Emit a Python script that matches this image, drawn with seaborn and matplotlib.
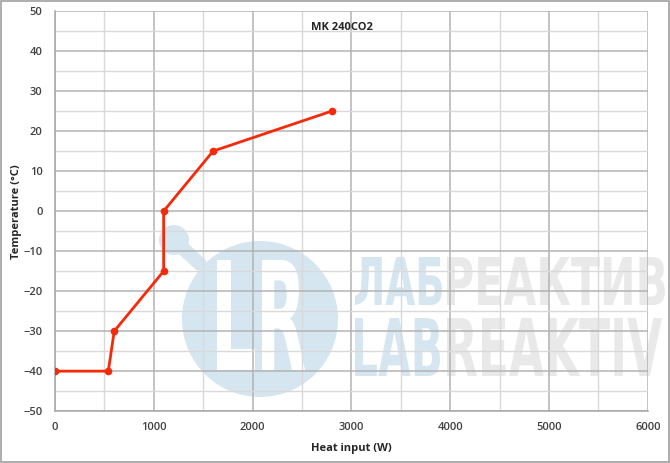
import numpy as np
import pandas as pd
import matplotlib
matplotlib.use("Agg")
import matplotlib.pyplot as plt
from matplotlib.patches import Circle, Rectangle, PathPatch
from matplotlib.textpath import TextPath
from matplotlib.font_manager import FontProperties
from matplotlib.transforms import Affine2D
import seaborn as sns

# data
heat_input = [0, 540, 600, 1100, 1100, 1600, 2800]
temperature = [-40, -40, -30, -15, 0, 15, 25]
x_ticks = [0, 1000, 2000, 3000, 4000, 5000, 6000]
y_ticks = [-50, -40, -30, -20, -10, 0, 10, 20, 30, 40, 50]
title = "MK 240CO2"

df = pd.DataFrame({"heat": heat_input, "temp": temperature})

sns.set_style("white")
plt.rcParams['font.family'] = ['Open Sans', 'DejaVu Sans']

fig = plt.figure(figsize=(6.7, 4.63), dpi=100)

# background layer in pixel units for the watermark
bg = fig.add_axes([0, 0, 1, 1], zorder=0)
bg.set_xlim(0, 670)
bg.set_ylim(463, 0)
bg.axis("off")

wm_blue = "#d6e6f1"
wm_gray = "#e9e9e9"
wm_font = FontProperties(family="DejaVu Sans", weight="bold")


def fit_text(s, x0, x1, y0, y1, color):
    # draw a text path squeezed into the pixel box (x0..x1, y0..y1)
    tp = TextPath((0, 0), s, size=100, prop=wm_font)
    ext = tp.get_extents()
    sx = (x1 - x0) / ext.width
    sy = (y1 - y0) / ext.height
    tr = Affine2D().translate(-ext.x0, -ext.y0).scale(sx, -sy).translate(x0, y1)
    bg.add_patch(PathPatch(tr.transform_path(tp), color=color, lw=0))


bg.add_patch(Circle((260, 319), 78, color=wm_blue, lw=0))
bg.add_patch(Circle((174, 240), 15, color=wm_blue, lw=0))
bg.plot([176, 200], [242, 264], color=wm_blue, lw=10, solid_capstyle="round")
fit_text("L", 217, 255, 260, 370, "white")
fit_text("R", 262, 305, 260, 370, "white")
fit_text("ЛАБ", 355, 442, 257, 305, wm_blue)
fit_text("РЕАКТИВ", 447, 665, 257, 305, wm_gray)
fit_text("LAB", 355, 440, 318, 376, wm_blue)
fit_text("REAKTIV", 447, 662, 318, 376, wm_gray)

ax = fig.add_axes([0.082, 0.112, 0.885, 0.864], zorder=1)
ax.patch.set_alpha(0)

sns.lineplot(data=df, x="heat", y="temp", ax=ax, sort=False, estimator=None,
             color="#f52a0a", linewidth=2, marker="o", markersize=5.5,
             markeredgewidth=0, zorder=5)

ax.set_xlim(0, 6000)
ax.set_ylim(-50, 50)
ax.set_xticks(x_ticks)
ax.set_yticks(y_ticks)
ax.set_xticks(np.arange(500, 6000, 1000), minor=True)
ax.set_yticks(np.arange(-45, 50, 10), minor=True)
ax.grid(which="major", color="#b3b3b3", linewidth=1.1, zorder=1)
ax.grid(which="minor", color="#d9d9d9", linewidth=1.0, zorder=1)
ax.set_axisbelow(True)

for s in ["top", "right"]:
    ax.spines[s].set_visible(False)
for s in ["left", "bottom"]:
    ax.spines[s].set_color("#a6a6a6")
    ax.spines[s].set_linewidth(1.1)

ax.tick_params(axis="y", which="major", length=4, color="#a6a6a6", labelsize=8,
               labelcolor="#404040", pad=5)
ax.tick_params(axis="x", which="major", length=0, labelsize=8, labelcolor="#404040", pad=8)
ax.tick_params(which="minor", length=0)
for lab in ax.get_xticklabels() + ax.get_yticklabels():
    lab.set_fontweight("semibold")

ax.set_xlabel("Heat input (W)", fontsize=8, fontweight="bold", color="#262626", labelpad=7)
ax.set_ylabel("Temperature (°C)", fontsize=8, fontweight="bold", color="#262626")
ax.yaxis.set_label_coords(-0.055, 0.5)
ax.text(0.484, 0.96, title, transform=ax.transAxes, ha="center", va="center",
        fontsize=8, fontweight="bold", color="#262626")

bg.add_patch(Rectangle((1, 1), 668, 461, fill=False, edgecolor="#a0a0a0", linewidth=1.2))

fig.savefig("out.png", dpi=100)
plt.close(fig)
